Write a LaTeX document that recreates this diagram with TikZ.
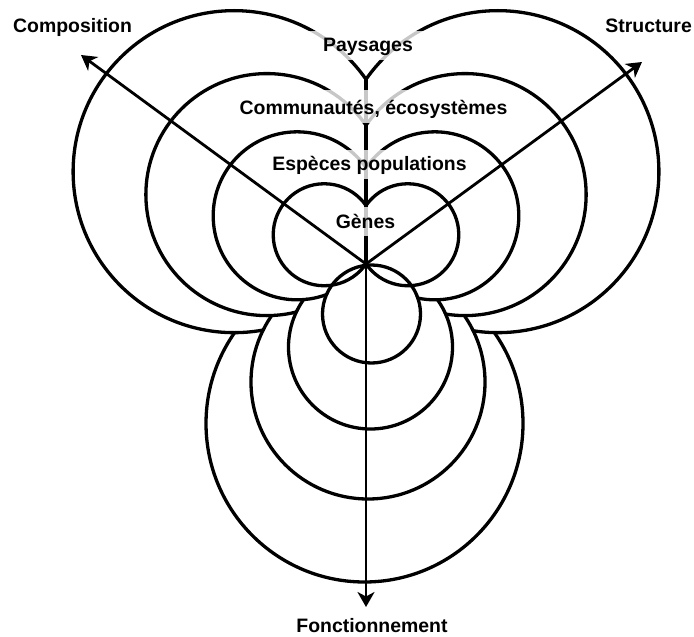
\documentclass[tikz,border=0pt]{standalone}
\usepackage{fontspec}
\setmainfont{Liberation Sans}
\usetikzlibrary{arrows.meta}
\begin{document}
\begin{tikzpicture}[x=1bp,y=-1bp,
  ring/.style={line width=3.3bp},
  mask/.style={fill=white},
  axis/.style={line width=2.8bp,-{Stealth[length=15bp,width=17bp,inset=4.5bp]}},
  lvl/.style={font=\fontsize{19.5}{21}\selectfont\bfseries, anchor=base,
    fill=white, fill opacity=0.78, text opacity=1,
    text height=14bp, text depth=1bp, inner xsep=14bp, inner ysep=7bp},
  axlbl/.style={font=\fontsize{19.5}{21}\selectfont\bfseries, inner sep=0pt}
]
\useasboundingbox (0,0) rectangle (694,637);
% centres
\coordinate (O) at (366,264);
\coordinate (L1) at (324.22,234.75); \coordinate (R1) at (407.78,234.75);
\coordinate (L2) at (297.19,215.82); \coordinate (R2) at (434.81,215.82);
\coordinate (L3) at (266.88,194.60); \coordinate (R3) at (465.12,194.60);
\coordinate (L4) at (234.11,171.65); \coordinate (R4) at (497.89,171.65);
\coordinate (B1) at (371.5,314);  \coordinate (B2) at (370.5,347);
\coordinate (B3) at (368,382);    \coordinate (B4) at (364.5,423.5);
\coordinate (top) at (366,79.3);
% level 4
\draw[ring] (B4) circle (158.5);
\fill[mask] (L4) circle (159.4) (R4) circle (159.4);
\begin{scope}\clip (0,0) rectangle (366,637); \draw[ring] (L4) circle (161); \end{scope}
\begin{scope}\clip (366,0) rectangle (694,637); \draw[ring] (R4) circle (161); \end{scope}
\fill[mask] (B3) circle (115.4);
% level 3
\draw[ring] (B3) circle (117);
\fill[mask] (L3) circle (119.4) (R3) circle (119.4);
\begin{scope}\clip (0,0) rectangle (366,637); \draw[ring] (L3) circle (121); \end{scope}
\begin{scope}\clip (366,0) rectangle (694,637); \draw[ring] (R3) circle (121); \end{scope}
\fill[mask] (B2) circle (80.4);
% level 2
\draw[ring] (B2) circle (82);
\fill[mask] (L2) circle (82.4) (R2) circle (82.4);
\begin{scope}\clip (0,0) rectangle (366,637); \draw[ring] (L2) circle (84); \end{scope}
\begin{scope}\clip (366,0) rectangle (694,637); \draw[ring] (R2) circle (84); \end{scope}
\fill[mask] (B1) circle (47.4);
% level 1
\draw[ring] (B1) circle (49);
\begin{scope}\clip (0,0) rectangle (366,637); \draw[ring] (L1) circle (51); \end{scope}
\begin{scope}\clip (366,0) rectangle (694,637); \draw[ring] (R1) circle (51); \end{scope}
% stem
\draw[ring] (O) -- (top);
% level labels
\node[lvl] (pay) at (368,52) {Paysages};
\node[lvl, text height=18bp] (com) at (373.5,115) {Communautés, écosystèmes};
\node[lvl] (esp) at (369.5,171) {Espèces populations};
\node[lvl] (gen) at (365.5,228) {Gènes};
% axes
\coordinate (tC) at (81,55);
\coordinate (tS) at (642,62);
\coordinate (tF) at (366,607);
\draw[axis] (O) -- (tC);
\draw[axis] (O) -- (tS);
\draw[axis] (O) -- (tF);
\node[axlbl, anchor=base west] (comp) at (13,33) {Composition};
\node[axlbl, anchor=base east] (stru) at (692,33) {Structure};
\node[axlbl, anchor=base] (fonc) at (372,632) {Fonctionnement};
\end{tikzpicture}
\end{document}
